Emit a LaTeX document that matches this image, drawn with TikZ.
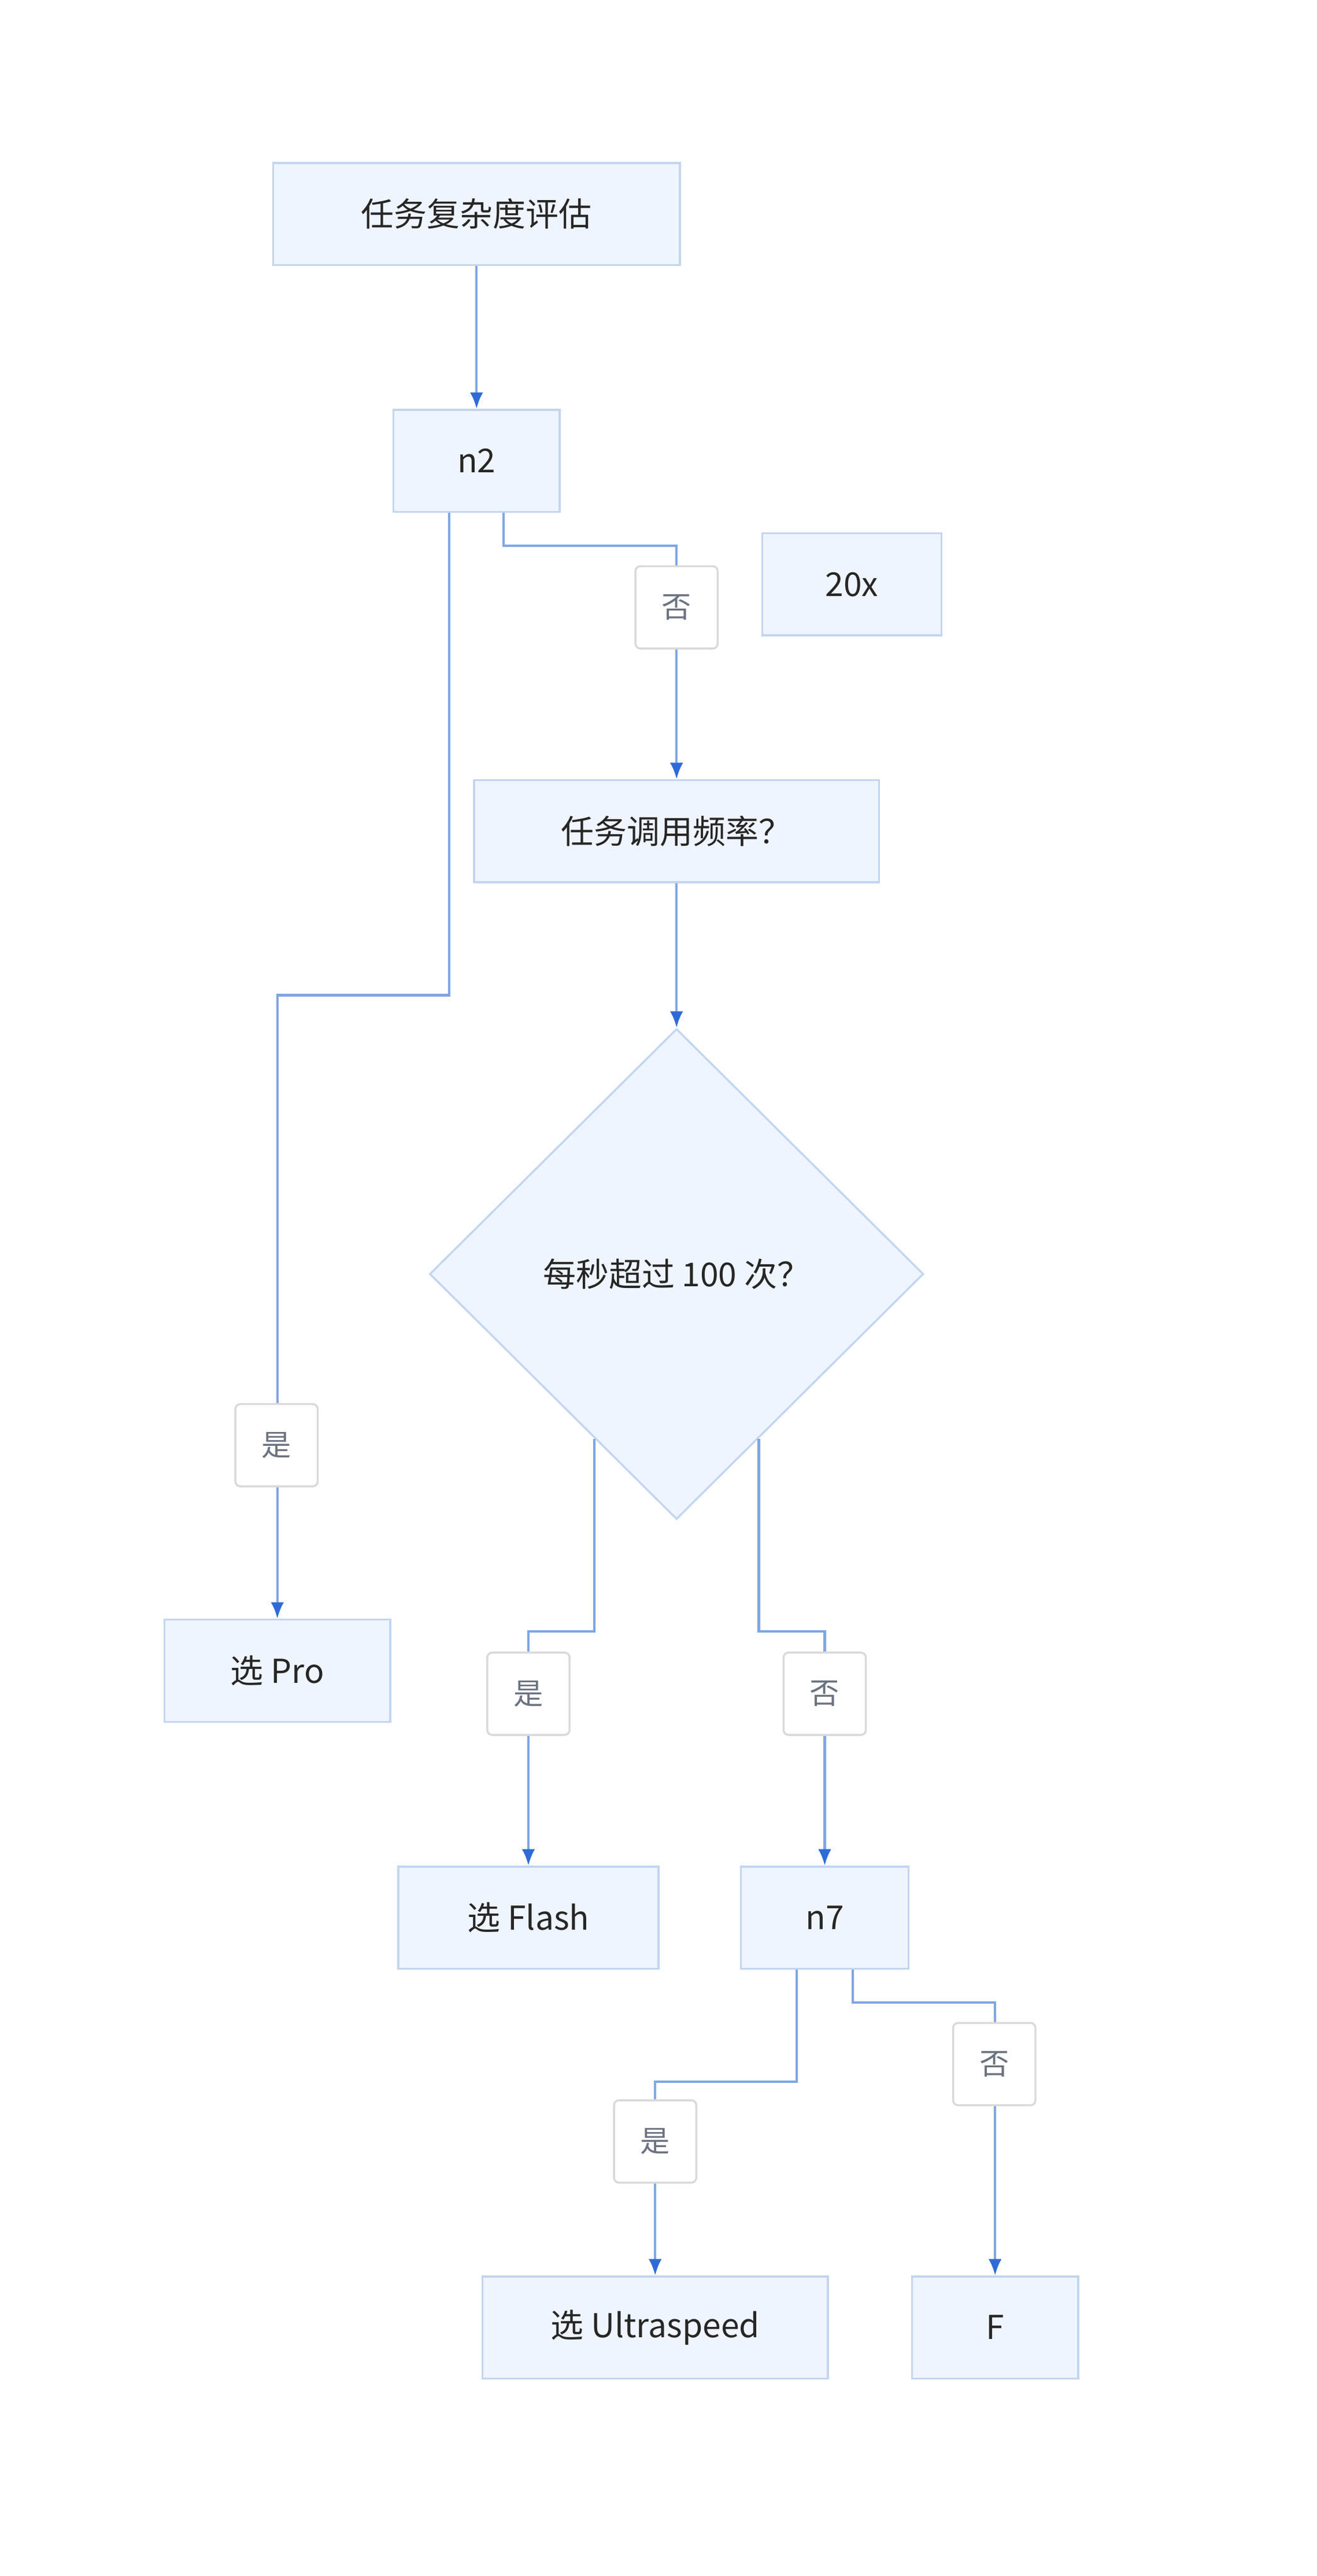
\documentclass[tikz,border=0pt]{standalone}
\usepackage{fontspec}
\setmainfont{Noto Sans CJK SC}
\usetikzlibrary{shapes.geometric,arrows.meta,calc}
\definecolor{nfill}{HTML}{EFF5FE}
\definecolor{ndraw}{HTML}{C3D5F0}
\definecolor{edge}{HTML}{7FA6E6}
\definecolor{tip}{HTML}{2F6BD8}
\definecolor{lbl}{HTML}{6B7280}
\definecolor{lbd}{HTML}{D9D9D9}
\begin{document}
\begin{tikzpicture}[x=1pt,y=-1pt,
  box/.style={draw=ndraw,fill=nfill,line width=1.2pt,inner sep=0pt,font=\fontsize{20}{24}\selectfont,text=black!85},
  dia/.style={draw=ndraw,fill=nfill,line width=1.2pt,diamond,minimum width=300,minimum height=298,inner sep=0pt,font=\fontsize{20}{24}\selectfont,text=black!85},
  lab/.style={draw=lbd,fill=white,rounded corners=3pt,line width=1.2pt,minimum width=50,minimum height=50,inner sep=0pt,font=\fontsize{18}{22}\selectfont,text=lbl},
  arr/.style={draw=edge,line width=1.5pt,-{Latex[length=10,width=8,color=tip]}}]
\useasboundingbox (0,0) rectangle (800,1565);
\node[box,minimum width=247,minimum height=62] (a) at (289.5,130) {任务复杂度评估};
\node[box,minimum width=101,minimum height=62] (n2) at (289.5,280) {n2};
\node[box,minimum width=109,minimum height=62] (x20) at (517.5,355) {20x};
\node[box,minimum width=246,minimum height=62] (q) at (411,505) {任务调用频率？};
\node[dia] (d) at (411,774) {每秒超过 100 次？};
\node[box,minimum width=137,minimum height=62] (pro) at (168.5,1015) {选 Pro};
\node[box,minimum width=158,minimum height=62] (fl) at (321,1165) {选 Flash};
\node[box,minimum width=102,minimum height=62] (n7) at (501,1165) {n7};
\node[box,minimum width=210,minimum height=62] (ul) at (398,1414) {选 Ultraspeed};
\node[box,minimum width=101,minimum height=62] (f) at (604.5,1414) {F};
\draw[arr] (a) -- (n2);
\draw[arr] ($(n2.south)+(16.5,0)$) -- ++(0,20) -| (q.north);
\draw[arr] ($(n2.south)+(-16.5,0)$) -- ++(0,293) -| (pro.north);
\draw[arr] (q) -- (d);
\draw[arr] ($(d.center)+(-50,100)$) -- (361,991) -| (fl.north);
\draw[arr] ($(d.center)+(50,100)$) -- (461,991) -| (n7.north);
\draw[arr] ($(n7.south)+(-17,0)$) -- ++(0,68) -| (ul.north);
\draw[arr] ($(n7.south)+(17,0)$) -- ++(0,20) -| (f.north);
\node[lab] (l1) at (411,369) {否};
\node[lab] (l2) at (168,878) {是};
\node[lab] (l3) at (321,1029) {是};
\node[lab] (l4) at (501,1029) {否};
\node[lab] (l5) at (398,1301) {是};
\node[lab] (l6) at (604,1254) {否};
\end{tikzpicture}
\end{document}
